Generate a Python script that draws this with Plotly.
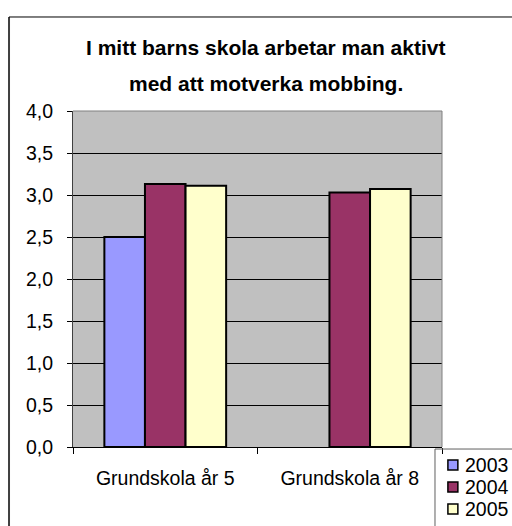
import plotly.graph_objects as go

categories = ["Grundskola år 5", "Grundskola år 8"]
series_names = ["2003", "2004", "2005"]
values_2003 = [2.5, None]
values_2004 = [3.13, 3.03]
values_2005 = [3.11, 3.07]
colors = ["#9999FF", "#993366", "#FFFFCC"]
y_ticks = [0, 0.5, 1, 1.5, 2, 2.5, 3, 3.5, 4]

FONT = "Liberation Sans, Arial, sans-serif"

fig = go.Figure()
for name, vals, col in zip(series_names, [values_2003, values_2004, values_2005], colors):
    fig.add_trace(go.Bar(
        x=categories, y=vals, name=name,
        marker=dict(color=col, line=dict(color="black", width=2)),
        showlegend=False,
    ))

# plot area in page coords x 73..442, y 111..447
fig.update_layout(
    width=512, height=526,
    margin=dict(l=73, r=70, t=111, b=79, autoexpand=False),
    paper_bgcolor="white",
    plot_bgcolor="#C0C0C0",
    separators=",.",
    barmode="group",
    bargap=0.34,
    bargroupgap=0,
    font=dict(family=FONT, size=19.5, color="black"),
)

fig.update_xaxes(
    showline=True, linecolor="black", linewidth=1,
    ticks="outside", tickson="boundaries", ticklen=6, tickcolor="black",
    showgrid=False, ticklabelstandoff=14,
)
fig.update_yaxes(
    range=[0, 4], tickvals=y_ticks, tickformat=".1f",
    showline=True, linecolor="#404040", linewidth=1,
    ticks="outside", ticklen=5, tickcolor="black",
    showgrid=True, gridcolor="black", gridwidth=1,
    zeroline=False, ticklabelstandoff=10,
)

# titles
fig.add_annotation(text="<b>I mitt barns skola arbetar man aktivt</b>", xref="paper", yref="paper",
                   x=0.523, y=1.190, xanchor="center", yanchor="middle", showarrow=False,
                   font=dict(size=21, family=FONT))
fig.add_annotation(text="<b>med att motverka mobbing.</b>", xref="paper", yref="paper",
                   x=0.523, y=1.083, xanchor="center", yanchor="middle", showarrow=False,
                   font=dict(size=21, family=FONT))

shapes = [
    # plot area top and right border
    dict(type="line", xref="paper", yref="paper", x0=0, x1=1, y0=1, y1=1, line=dict(color="#808080", width=1)),
    dict(type="line", xref="paper", yref="paper", x0=1, x1=1, y0=0, y1=1, line=dict(color="#808080", width=1)),
    # chart area border
    dict(type="line", xref="paper", yref="paper", x0=-0.1734, x1=-0.1734, y0=-0.4, y1=1.2798, line=dict(color="#404040", width=2)),
    dict(type="line", xref="paper", yref="paper", x0=-0.1734, x1=1.3, y0=1.2798, y1=1.2798, line=dict(color="black", width=1)),
    # legend box
    dict(type="line", xref="paper", yref="paper", x0=0.981, x1=0.981, y0=-0.4, y1=-0.006, line=dict(color="#606060", width=1)),
    dict(type="line", xref="paper", yref="paper", x0=0.981, x1=1.3, y0=-0.006, y1=-0.006, line=dict(color="#606060", width=1)),
]

# legend (swatch + label per series)
leg_y0 = -0.0536
leg_step = 0.0655
half = 0.0149
for i, (name, col) in enumerate(zip(series_names, colors)):
    yc = leg_y0 - i * leg_step
    shapes.append(dict(type="rect", xref="paper", yref="paper", x0=1.016, x1=1.043,
                       y0=yc - half, y1=yc + half, fillcolor=col,
                       line=dict(color="black", width=1.5)))
    fig.add_annotation(text=name, xref="paper", yref="paper", x=1.062, y=yc,
                       xanchor="left", yanchor="middle", showarrow=False,
                       borderpad=0, borderwidth=0,
                       font=dict(size=19.5, family=FONT))

fig.update_layout(shapes=shapes)

fig.write_html(
    "out.html",
    config={"displayModeBar": False},
    post_script="document.body.style.margin='0';document.body.style.overflow='hidden';",
)
